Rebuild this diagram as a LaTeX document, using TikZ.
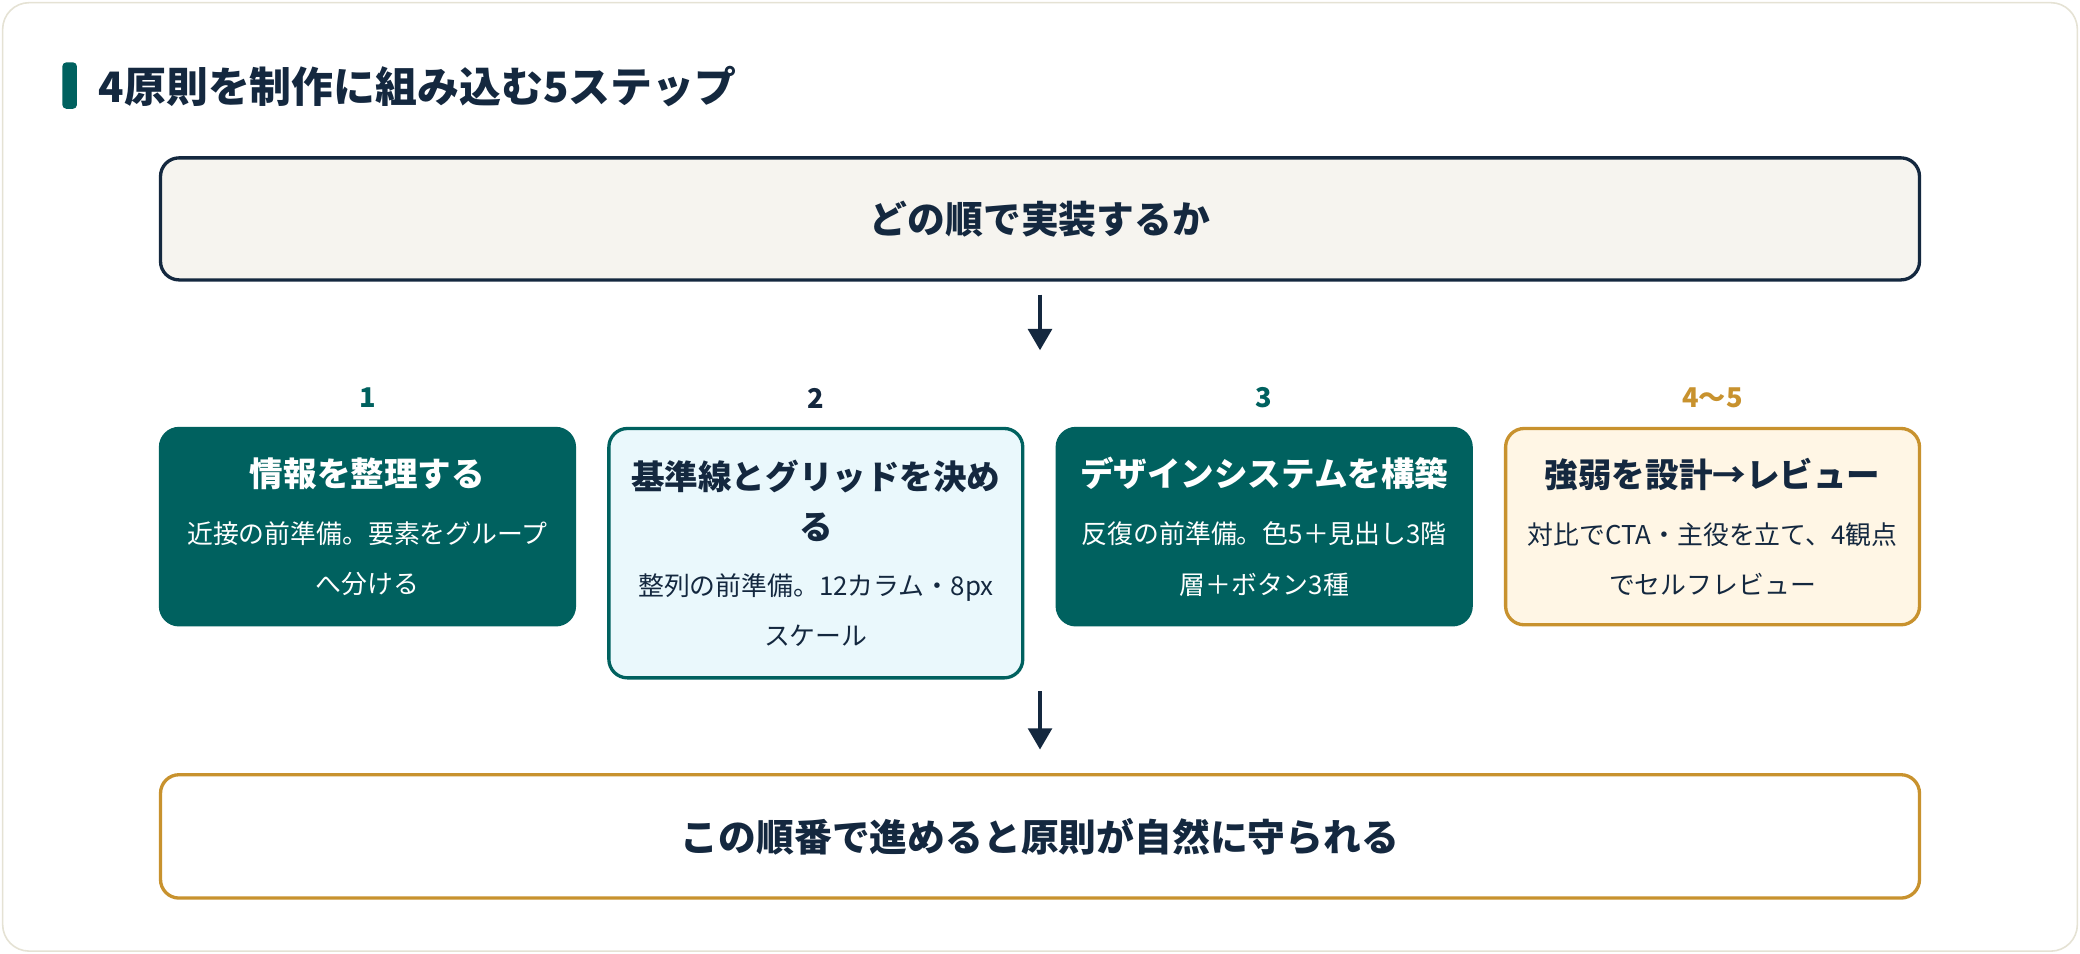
\documentclass[tikz,border=0pt]{standalone}
\usepackage{fontspec}
\setmainfont{Noto Sans CJK JP}
\usetikzlibrary{arrows.meta,positioning}
\definecolor{navy}{HTML}{14283F}
\definecolor{teal}{HTML}{00615F}
\definecolor{gold}{HTML}{C8922E}
\definecolor{skyfill}{HTML}{EAF8FC}
\definecolor{creamfill}{HTML}{FFF6E5}
\definecolor{qfill}{HTML}{F6F4EF}
\definecolor{cardline}{HTML}{E5E2D4}
\newcommand\steptitle{\fontsize{12.65pt}{19pt}\selectfont\bfseries}

\begin{document}
\begin{tikzpicture}[node distance=13pt,>={Triangle[length=8pt,width=9pt]},
	stepbox/.style={rounded corners=7pt,line width=1.25pt,minimum width=156pt,
		minimum height=74pt,align=center,inner sep=0pt,outer sep=0pt,
		font=\fontsize{9.75pt}{19pt}\selectfont},
	darkstep/.style={stepbox,fill=teal,draw=teal,text=white},
	lightstep/.style={stepbox,fill=skyfill,draw=teal,text=navy},
	goldstep/.style={stepbox,fill=creamfill,draw=gold,text=navy},
	bigbox/.style={rounded corners=7pt,line width=1.25pt,minimum width=663pt,outer sep=0pt,
		text=navy,font=\fontsize{14.25pt}{17pt}\selectfont\bfseries},
	num/.style={inner sep=0pt,font=\fontsize{10.25pt}{12pt}\selectfont\bfseries},
	flow/.style={->,draw=navy,line width=1.2pt}]
	
	\useasboundingbox (0,0) rectangle (784pt,-359.5pt);
	\filldraw[fill=white,draw=cardline,line width=0.6pt,rounded corners=10pt]
		(1pt,-1pt) rectangle (783pt,-358.5pt);
	
	% heading
	\fill[teal,rounded corners=1.5pt] (23.5pt,-23.5pt) rectangle (29pt,-41pt);
	\node[anchor=west,inner sep=0pt,text=navy,
		font=\fontsize{15.8pt}{19pt}\selectfont\bfseries] (T) at (37pt,-32.5pt)
		{4原則を制作に組み込む5ステップ};
	
	\node[bigbox,draw=navy,fill=qfill,minimum height=46pt] (Q) at (392pt,-82.5pt)
		{どの順で実装するか};
	\coordinate[below=26.5pt of Q.south] (a1);
	
	% steps
	\node[darkstep]  (S1) [below=56pt of Q.south west,anchor=north west]
		{{\steptitle 情報を整理する}\\[2.5pt]近接の前準備。要素をグループ\\へ分ける};
	\node[lightstep,minimum height=94pt] (S2) [right=of S1.north east,anchor=north west]
		{{\steptitle 基準線とグリッドを決め}\\{\steptitle る}\\[2pt]整列の前準備。12カラム・8px\\スケール};
	\node[darkstep]  (S3) [right=of S2.north east,anchor=north west]
		{{\steptitle デザインシステムを構築}\\[2.5pt]反復の前準備。色5＋見出し3階\\層＋ボタン3種};
	\node[goldstep]  (S4) [right=of S3.north east,anchor=north west]
		{{\steptitle 強弱を設計→レビュー}\\[2.5pt]対比でCTA・主役を立て、4観点\\でセルフレビュー};
	
	\node[num,text=teal] (N1) [above=11.5pt of S1.north,anchor=center] {1};
	\node[num,text=navy] (N2) [above=11.5pt of S2.north,anchor=center] {2};
	\node[num,text=teal] (N3) [above=11.5pt of S3.north,anchor=center] {3};
	\node[num,text=gold] (N4) [above=11.5pt of S4.north,anchor=center] {4〜5};
	
	\node[bigbox,draw=gold,fill=white,minimum height=46.5pt,anchor=north] (G)
		at ([yshift=-36.5pt]S2.south -| Q.south) {この順番で進めると原則が自然に守られる};
	\coordinate (a2) at ([yshift=-5pt]S2.south -| Q.south);
	
	\draw[flow,shorten <=5.5pt] (Q) -- (a1);
	\draw[flow,shorten >=9.5pt] (a2) -- (G);
\end{tikzpicture}
\end{document}
